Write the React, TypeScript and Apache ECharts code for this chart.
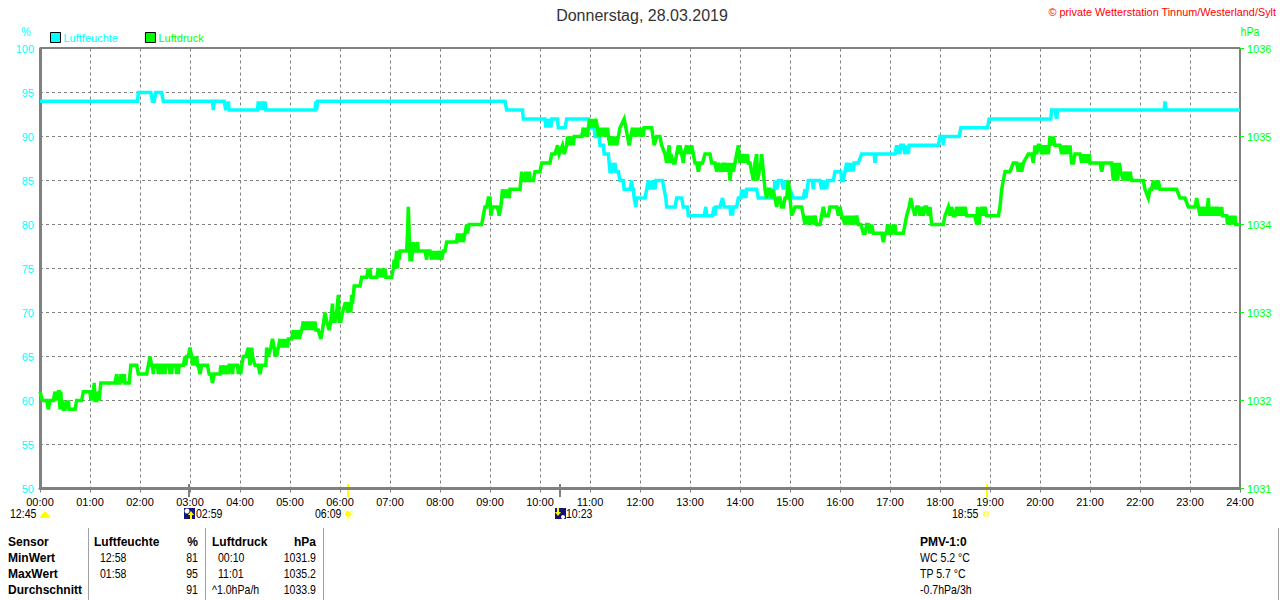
import React, { useEffect, useRef } from "react";
import * as echarts from "echarts";

const FONT = "'Liberation Sans', Arial, sans-serif";
const CYAN = "#00ffff";
const GREEN = "#00ff00";
const GREY = "#808080";
const YELLOW = "#ffff00";
const NAVY = "#14147a";

const chartTitle = "Donnerstag, 28.03.2019";
const copyright = "© private Wetterstation Tinnum/Westerland/Sylt";
const humidityName = "Luftfeuchte";
const pressureName = "Luftdruck";

// [minute of day, %]
const humidityReadings: [number, number][] = [
  [0,94],[117,94],[118,95],[133,95],[135,94],[137,94],[139,95],[146,95],[148,94],[207,94],[208,93],[209,94],[221,94],[223,93],[224,94],[225,93],[226,94],[227,93],
  [261,93],[262,94],[263,93],[264,94],[265,93],[266,94],[267,93],[268,94],[269,93],[270,94],[271,93],[330,93],[331,94],[332,93],[333,94],[558,94],[560,93],[579,93],[580,92],
  [606,92],[607,91],[608,92],[609,91],[610,92],[611,91],[612,92],[613,91],[614,92],[616,92],[621,92],[622,91],[630,91],[632,92],[658,92],[660,91],[665,91],[666,90],[671,90],[672,89],[676,89],[677,88],[682,88],
  [683,87],[684,86],[686,86],[687,87],[688,86],[690,87],[691,86],[694,86],[696,85],[700,85],[701,84],[708,84],[710,85],[711,84],[712,84],[713,83],[715,82],[716,83],[726,83],[728,84],
  [730,85],[732,84],[733,85],[735,84],[736,85],[738,84],[739,85],[747,85],[749,84],[751,83],[752,82],[762,82],[764,83],[770,83],[772,82],[777,82],[778,81],[797,81],[799,82],[800,81],
  [807,81],[809,82],[810,81],[811,82],[816,82],[819,83],[821,82],[828,82],[829,81],[830,82],[831,81],[832,82],[836,82],[838,83],[841,83],[842,84],[843,83],[844,84],[845,83],[846,84],[847,83],[848,84],[860,84],
  [862,83],[880,83],[881,84],[882,85],[884,84],[886,85],[890,85],[892,84],[893,85],[895,84],[896,85],[900,84],[904,83],[916,83],[918,84],[919,83],[922,85],[927,85],[928,84],[929,85],[936,85],[938,84],[939,85],[940,84],[941,85],[942,84],[943,85],[944,84],[945,85],[952,85],
  [954,86],[961,86],[962,85],[964,85],[966,86],[968,87],[970,86],[971,87],[972,86],[973,87],[974,86],[975,87],[976,86],[977,87],[980,87],[982,87],[986,88],[1001,88],[1002,87],[1003,88],[1026,88],
  [1028,89],[1030,88],[1031,89],[1032,88],[1033,89],[1034,89],[1036,89],[1038,88],[1039,89],[1040,88],[1041,89],[1042,88],[1043,89],[1078,89],
  [1080,90],[1083,90],[1084,89],[1085,90],[1103,90],[1105,91],[1137,91],[1139,92],[1213,92],[1214,93],[1218,93],[1220,92],[1221,93],[1349,93],[1350,94],[1351,93],[1440,93],
];

// [minute of day, hPa]
const pressureReadings: [number, number][] = [
  [0,1032.1],[3,1032.0],[8,1032.0],[10,1031.9],[12,1032.0],[16,1032.0],[18,1032.1],[19,1032.0],[20,1032.1],[21,1032.0],[22,1032.1],[23,1032.1],[24,1031.9],[25,1032.1],[26,1031.9],[27,1032.0],[28,1031.9],[30,1031.9],[32,1032.0],[33,1031.9],[34,1032.0],[35,1031.9],[42,1031.9],
  [44,1032.0],[50,1032.0],[52,1032.1],[60,1032.1],[61,1032.0],[62,1032.1],[63,1032.0],[65,1032.2],[66,1032.0],[68,1032.0],[70,1032.1],[71,1032.0],[72,1032.1],[73,1032.2],[76,1032.2],[90,1032.2],
  [92,1032.3],[93,1032.2],[96,1032.2],[97,1032.3],[98,1032.2],[99,1032.3],[100,1032.2],[101,1032.3],[102,1032.2],[104,1032.2],[107,1032.2],[109,1032.4],[116,1032.4],[118,1032.3],[128,1032.3],[130,1032.4],[132,1032.5],[134,1032.4],[135,1032.4],
  [136,1032.3],[137,1032.4],[141,1032.4],[142,1032.3],[143,1032.4],[144,1032.3],[145,1032.4],[147,1032.4],[148,1032.3],[149,1032.4],[150,1032.3],[151,1032.4],[155,1032.4],[156,1032.3],[157,1032.4],[158,1032.3],[159,1032.4],[163,1032.4],[164,1032.3],[165,1032.4],[166,1032.3],[167,1032.4],
  [172,1032.4],[174,1032.5],[175,1032.4],[176,1032.5],[178,1032.5],[180,1032.6],[182,1032.5],[183,1032.4],[185,1032.5],[186,1032.4],[188,1032.5],[189,1032.4],[190,1032.4],[192,1032.3],[194,1032.4],[196,1032.4],[198,1032.4],[201,1032.4],[203,1032.3],[205,1032.3],[207,1032.2],[209,1032.3],[216,1032.3],
  [217,1032.4],[218,1032.3],[219,1032.4],[221,1032.3],[222,1032.4],[223,1032.3],[224,1032.4],[226,1032.3],[227,1032.4],[229,1032.4],[231,1032.3],[232,1032.4],[237,1032.4],[238,1032.3],[239,1032.4],[241,1032.3],[242,1032.4],
  [244,1032.5],[247,1032.5],[250,1032.6],[252,1032.4],[254,1032.6],[255,1032.5],[258,1032.4],[262,1032.4],[264,1032.3],[266,1032.4],[271,1032.4],[272,1032.6],[274,1032.5],[277,1032.6],[279,1032.7],[281,1032.6],[282,1032.5],[283,1032.6],[284,1032.5],[286,1032.6],
  [288,1032.7],[289,1032.6],[290,1032.7],[291,1032.6],[292,1032.7],[293,1032.6],[294,1032.7],[295,1032.6],[296,1032.7],[297,1032.6],[298,1032.7],[302,1032.7],[304,1032.8],[305,1032.7],[306,1032.8],[307,1032.7],[308,1032.8],[309,1032.7],[310,1032.8],[311,1032.7],[314,1032.8],
  [316,1032.9],[317,1032.8],[318,1032.9],[319,1032.8],[320,1032.9],[321,1032.8],[322,1032.9],[323,1032.8],[324,1032.9],[325,1032.8],[326,1032.9],[327,1032.8],[328,1032.9],[329,1032.8],[330,1032.9],[331,1032.8],[334,1032.8],[337,1032.7],[339,1032.8],[342,1033.0],[344,1032.9],[347,1032.8],[349,1032.9],[351,1033.1],[352,1032.9],[354,1032.9],[356,1033.0],[358,1033.2],[359,1032.9],[361,1032.9],[363,1033.0],[366,1033.1],[368,1033.1],[369,1033.0],[370,1033.1],[372,1033.1],[373,1033.0],[374,1033.2],
  [375,1033.1],[376,1033.2],[377,1033.3],[378,1033.3],[384,1033.3],[386,1033.4],[392,1033.4],[394,1033.5],[395,1033.4],[396,1033.5],[397,1033.4],[398,1033.4],[404,1033.4],[406,1033.5],[407,1033.4],[408,1033.5],[409,1033.4],[411,1033.5],[412,1033.4],[414,1033.5],[415,1033.4],[422,1033.4],
  [424,1033.5],[425,1033.6],[426,1033.5],[427,1033.6],[428,1033.7],[429,1033.5],[430,1033.7],[431,1033.6],[432,1033.7],[434,1033.7],[440,1033.7],[441,1033.9],[442,1034.2],[443,1033.9],[444,1033.6],[446,1033.6],[448,1033.8],[449,1033.7],[451,1033.7],[453,1033.8],[454,1033.7],[456,1033.7],[462,1033.7],[464,1033.6],[465,1033.7],[468,1033.7],
  [470,1033.6],[471,1033.7],[472,1033.6],[473,1033.7],[474,1033.6],[475,1033.7],[476,1033.6],[477,1033.7],[478,1033.6],[480,1033.7],[482,1033.6],[484,1033.7],[486,1033.7],[488,1033.8],[492,1033.8],[500,1033.8],[501,1033.9],[502,1033.8],[503,1033.9],[504,1033.8],[505,1033.9],[506,1033.8],[507,1033.9],[508,1033.8],[510,1033.9],[512,1034.0],[513,1033.9],[515,1034.0],[518,1034.0],[530,1034.0],
  [532,1034.1],[534,1034.2],[536,1034.2],[538,1034.3],[540,1034.3],[541,1034.1],[543,1034.2],[549,1034.2],[551,1034.1],[553,1034.2],[555,1034.4],[557,1034.3],[558,1034.4],[559,1034.3],[560,1034.4],[561,1034.3],[562,1034.4],[563,1034.3],[564,1034.4],[576,1034.4],[578,1034.6],[579,1034.5],[582,1034.5],[583,1034.6],[584,1034.5],[586,1034.5],[587,1034.6],[588,1034.5],[592,1034.5],[594,1034.6],[600,1034.6],[602,1034.7],[612,1034.7],[614,1034.8],[618,1034.8],[621,1034.9],[623,1034.8],[627,1034.9],[629,1034.8],[632,1034.9],
  [633,1035.0],[634,1034.9],[635,1035.0],[636,1034.9],[637,1035.0],[638,1034.9],[639,1035.0],[640,1034.9],[641,1035.0],[650,1035.0],[652,1035.1],[653,1035.0],[654,1035.1],[655,1035.0],[656,1035.1],[657,1035.0],[658,1035.1],[660,1035.2],[661,1035.1],[662,1035.2],[663,1035.1],[664,1035.2],[665,1035.1],[667,1035.2],[669,1035.1],
  [670,1035.0],[671,1035.1],[672,1035.0],[673,1035.1],[674,1035.0],[675,1035.1],[676,1035.0],[677,1035.1],[678,1035.0],[679,1035.1],[680,1035.0],[681,1035.1],[682,1035.0],[684,1034.9],[685,1035.0],[686,1034.9],[687,1035.0],[688,1034.9],[689,1035.0],[690,1034.9],[691,1035.0],[692,1034.9],[694,1035.0],[696,1035.1],[701,1035.2],[703,1035.1],[705,1035.0],[707,1034.9],[709,1035.0],[711,1035.1],[712,1035.0],[713,1035.1],[714,1035.0],[715,1035.1],[716,1035.0],[717,1035.1],[718,1035.0],[719,1035.1],[720,1035.0],[721,1035.1],[722,1035.0],[723,1035.1],[724,1035.0],[725,1035.1],[730,1035.1],[734,1035.1],[737,1034.9],[740,1035.0],[744,1035.0],[746,1034.9],[750,1034.8],[752,1034.7],[755,1034.9],[756,1034.7],[757,1034.8],[760,1034.7],[762,1034.7],[764,1034.8],[766,1034.9],[767,1034.8],[768,1034.9],[770,1034.8],[772,1034.7],[773,1034.8],[776,1034.9],[777,1034.8],[778,1034.9],[779,1034.8],[780,1034.9],[781,1034.8],[782,1034.9],[784,1034.8],[786,1034.7],[788,1034.7],[790,1034.6],[792,1034.7],[795,1034.7],[798,1034.8],[804,1034.8],[806,1034.7],[810,1034.7],[812,1034.6],[814,1034.7],[817,1034.6],[819,1034.7],[820,1034.6],[822,1034.7],[824,1034.6],[826,1034.7],
  [828,1034.5],[830,1034.7],[832,1034.6],[834,1034.7],[838,1034.9],[840,1034.7],[841,1034.8],[842,1034.7],[843,1034.8],[844,1034.7],[845,1034.8],[846,1034.7],[847,1034.8],[848,1034.7],[849,1034.8],[850,1034.7],[852,1034.7],[854,1034.6],[856,1034.5],[858,1034.7],[860,1034.8],[861,1034.5],[863,1034.6],[865,1034.7],[866,1034.8],[868,1034.6],[870,1034.4],[872,1034.3],[874,1034.4],[876,1034.4],[878,1034.3],[879,1034.4],[882,1034.3],[884,1034.2],[886,1034.3],[888,1034.3],[890,1034.2],[892,1034.2],[894,1034.3],[896,1034.3],[898,1034.5],[900,1034.3],[902,1034.1],[906,1034.2],[908,1034.2],[912,1034.2],[914,1034.2],[916,1034.1],[918,1034.0],[920,1034.1],[921,1034.0],[922,1034.1],[923,1034.0],[924,1034.1],[925,1034.0],[926,1034.1],[928,1034.0],[930,1034.1],[932,1034.0],[936,1034.0],[938,1034.1],[940,1034.2],[942,1034.1],[946,1034.1],[948,1034.2],[952,1034.2],[954,1034.2],[956,1034.2],
  [958,1034.1],[960,1034.2],[962,1034.1],[966,1034.0],[967,1034.1],[968,1034.0],[969,1034.1],[970,1034.0],[971,1034.1],[972,1034.0],[973,1034.1],[974,1034.0],[975,1034.1],[976,1034.0],[977,1034.1],[978,1034.0],[980,1034.1],[982,1034.0],[985,1034.0],[988,1033.9],[990,1033.9],[992,1034.0],[994,1034.0],[996,1033.9],[998,1034.0],[1000,1033.9],[1004,1033.9],[1006,1033.9],[1008,1033.9],[1010,1033.9],[1012,1033.8],[1014,1033.9],
  [1016,1033.9],[1017,1034.0],[1018,1033.9],[1019,1034.0],[1020,1033.9],[1022,1033.9],[1024,1034.0],[1025,1033.9],[1026,1034.0],[1027,1033.9],[1030,1033.9],[1032,1033.9],[1034,1033.9],[1036,1033.9],[1040,1034.1],[1043,1034.2],[1045,1034.3],[1047,1034.2],[1050,1034.1],[1052,1034.2],[1054,1034.2],[1056,1034.1],[1058,1034.2],[1060,1034.1],[1062,1034.2],[1064,1034.2],[1066,1034.1],[1068,1034.2],[1070,1034.0],[1072,1034.0],[1074,1034.0],[1078,1034.0],[1084,1034.0],[1086,1034.1],[1090,1034.2],[1092,1034.1],[1094,1034.2],[1096,1034.1],[1098,1034.1],[1100,1034.2],[1101,1034.1],[1103,1034.2],[1104,1034.1],[1106,1034.2],[1108,1034.1],[1110,1034.2],[1112,1034.1],[1118,1034.1],[1122,1034.1],[1124,1034.0],[1125,1034.2],[1126,1034.1],[1127,1034.0],[1128,1034.1],[1130,1034.2],[1132,1034.1],[1134,1034.2],[1136,1034.1],[1138,1034.1],[1140,1034.1],[1142,1034.1],[1146,1034.1],[1148,1034.1],[1150,1034.1],
  [1152,1034.2],[1154,1034.4],[1156,1034.5],[1158,1034.6],[1164,1034.6],[1168,1034.7],[1172,1034.7],[1174,1034.6],[1176,1034.7],[1178,1034.6],[1180,1034.7],[1186,1034.8],[1190,1034.8],[1192,1034.7],[1194,1034.9],[1196,1034.8],[1198,1034.9],[1200,1034.9],[1202,1034.8],[1204,1034.9],[1206,1034.8],[1208,1034.9],[1210,1034.8],[1212,1035.0],[1214,1034.9],[1216,1035.0],[1218,1034.9],[1220,1034.9],[1224,1034.9],[1226,1034.8],[1227,1034.9],[1228,1034.8],[1229,1034.9],[1230,1034.8],[1232,1034.9],[1233,1034.8],[1234,1034.9],[1235,1034.8],[1236,1034.9],[1237,1034.8],[1238,1034.7],[1240,1034.7],[1242,1034.8],[1244,1034.8],[1248,1034.8],
  [1250,1034.7],[1251,1034.8],[1252,1034.7],[1253,1034.8],[1254,1034.7],[1255,1034.8],[1256,1034.7],[1257,1034.8],[1258,1034.7],[1259,1034.8],[1260,1034.7],[1272,1034.7],[1274,1034.6],[1276,1034.7],[1286,1034.7],[1288,1034.5],[1290,1034.7],[1291,1034.5],[1292,1034.7],[1293,1034.5],[1295,1034.7],[1297,1034.6],[1300,1034.5],[1302,1034.6],[1303,1034.5],[1304,1034.6],[1305,1034.5],[1306,1034.6],[1307,1034.5],[1308,1034.6],[1310,1034.5],[1324,1034.5],[1326,1034.4],[1330,1034.3],[1332,1034.4],[1334,1034.4],[1336,1034.5],[1337,1034.4],[1338,1034.5],[1340,1034.4],[1342,1034.5],[1344,1034.4],[1350,1034.4],[1364,1034.4],[1368,1034.3],[1374,1034.3],[1378,1034.2],[1386,1034.2],[1388,1034.3],[1390,1034.2],[1392,1034.1],[1394,1034.2],[1396,1034.1],[1398,1034.2],[1400,1034.1],[1402,1034.3],[1403,1034.1],[1405,1034.2],[1406,1034.1],[1408,1034.2],[1410,1034.1],[1412,1034.2],[1414,1034.1],[1416,1034.2],[1417,1034.1],[1418,1034.2],[1419,1034.1],[1420,1034.1],[1424,1034.1],[1425,1034.0],[1426,1034.1],[1427,1034.0],[1428,1034.1],[1429,1034.0],[1430,1034.1],[1431,1034.0],[1432,1034.1],[1433,1034.0],[1434,1034.1],[1435,1034.0],[1440,1034.0],
];

// Table below the plot
const sensorLabels = ["Sensor", "MinWert", "MaxWert", "Durchschnitt"];
const humidityColTimes = ["Luftfeuchte", "12:58", "01:58", ""];
const humidityColValues = ["%", "81", "95", "91"];
const pressureColTimes = ["Luftdruck", "00:10", "11:01", "^1.0hPa/h"];
const pressureColValues = ["hPa", "1031.9", "1035.2", "1033.9"];
const pmvLines = ["PMV-1:0", "WC 5.2 °C", "TP 5.7 °C", "-0.7hPa/3h"];

const hhmm = (m: number) => String(Math.round(m / 60)).padStart(2, "0") + ":00";
const NARROW_SCALE = 0.88;

function text(x: number, y: number, t: string, extra: any = {}, scaleX = NARROW_SCALE) {
  return {
    type: "text",
    x,
    y,
    scaleX,
    silent: true,
    style: {
      text: t,
      fill: "#000",
      font: `12px ${FONT}`,
      textAlign: "left",
      textVerticalAlign: "middle",
      ...extra,
    },
  };
}

const rect = (x: number, y: number, width: number, height: number, fill: string) => ({
  type: "rect",
  shape: { x, y, width, height },
  silent: true,
  style: { fill },
});

function tableGraphics() {
  const rowY = [542, 558, 574, 590];
  const out: any[] = [];
  const bold = `bold 12px ${FONT}`;
  rowY.forEach((y, i) => {
    out.push(text(8, y, sensorLabels[i], { font: bold }, 1));
    out.push(i === 0 ? text(94, y, humidityColTimes[i], { font: bold }, 1) : text(100, y, humidityColTimes[i]));
    out.push(text(198, y, humidityColValues[i], i === 0 ? { font: bold, textAlign: "right" } : { textAlign: "right" }, i === 0 ? 1 : NARROW_SCALE));
    out.push(i === 0 ? text(212, y, pressureColTimes[i], { font: bold }, 1) : text(i === 3 ? 212 : 218, y, pressureColTimes[i]));
    out.push(text(316, y, pressureColValues[i], i === 0 ? { font: bold, textAlign: "right" } : { textAlign: "right" }, i === 0 ? 1 : NARROW_SCALE));
    out.push(i === 0 ? text(920, y, pmvLines[i], { font: bold }, 1) : text(920, y, pmvLines[i]));
  });
  [88, 205, 323, 1278].forEach((x) => out.push(rect(x, 528, 1, 72, "#a0a0a0")));
  return out;
}

function markerGraphics() {
  return [
    // event ticks on the time axis
    rect(188, 484, 2, 13, GREY),
    rect(559, 484, 2, 13, GREY),
    rect(347, 484, 2, 13, YELLOW),
    rect(986, 484, 2, 13, YELLOW),
    // 12:45
    text(10, 514, "12:45"),
    { type: "polygon", silent: true, shape: { points: [[40, 518], [41, 515], [44, 512], [46, 512], [49, 515], [50, 518]] }, style: { fill: YELLOW } },
    // 02:59
    rect(184, 508, 11, 11, NAVY),
    { type: "circle", silent: true, shape: { cx: 187, cy: 511, r: 2.5 }, style: { fill: "#fff" } },
    { type: "polygon", silent: true, shape: { points: [[191, 511], [194, 515], [192, 515], [192, 519], [190, 519], [190, 515], [188, 515]] }, style: { fill: YELLOW } },
    text(196, 514, "02:59"),
    // 06:09
    text(315, 514, "06:09"),
    { type: "circle", silent: true, shape: { cx: 348, cy: 514, r: 3 }, style: { fill: YELLOW } },
    { type: "circle", silent: true, shape: { cx: 348, cy: 514, r: 5 }, style: { fill: "none", stroke: "#ffffa0", lineWidth: 1 } },
    // 10:23
    rect(555, 508, 11, 11, NAVY),
    { type: "polygon", silent: true, shape: { points: [[558, 516], [555, 512], [557, 512], [557, 508], [559, 508], [559, 512], [561, 512]] }, style: { fill: YELLOW } },
    { type: "circle", silent: true, shape: { cx: 563, cy: 517, r: 2 }, style: { fill: "#fff" } },
    text(566, 514, "10:23"),
    // 18:55
    text(952, 514, "18:55"),
    { type: "rect", silent: true, shape: { x: 984, y: 512, width: 4, height: 4 }, style: { fill: "#fff", stroke: YELLOW, lineWidth: 1.2 } },
  ];
}

export default function App() {
  const ref = useRef<HTMLDivElement>(null);
  useEffect(() => {
    const chart = echarts.init(ref.current!, null, { renderer: "svg" });
    chart.setOption({
      animation: false,
      backgroundColor: "#fff",
      textStyle: { fontFamily: FONT },
      grid: { left: 40, right: 40, top: 48.5, bottom: 111.5, containLabel: false },
      legend: {
        left: 50,
        top: 32,
        padding: 0,
        itemWidth: 10,
        itemHeight: 10,
        itemGap: 27,
        icon: "rect",
        selectedMode: false,
        textStyle: { fontSize: 11, fontFamily: FONT, padding: [0, 0, 0, -2] },
        data: [
          { name: humidityName, icon: "rect", itemStyle: { color: CYAN, borderColor: "#000", borderWidth: 1 }, textStyle: { color: CYAN } },
          { name: pressureName, icon: "rect", itemStyle: { color: GREEN, borderColor: "#000", borderWidth: 1 }, textStyle: { color: GREEN } },
        ],
      },
      xAxis: {
        type: "value",
        min: 0,
        max: 1440,
        interval: 60,
        axisLine: { show: true, onZero: false, lineStyle: { color: GREY, width: 3 } },
        axisTick: { show: true, length: 4, lineStyle: { color: GREY, width: 1 } },
        axisLabel: { color: "#000", fontSize: 11, margin: 8, fontFamily: FONT, formatter: (v: number) => hhmm(v), showMinLabel: true, showMaxLabel: true },
        splitLine: { show: true, lineStyle: { color: GREY, type: [3, 3], width: 1 } },
      },
      yAxis: [
        {
          type: "value",
          min: 50,
          max: 100,
          interval: 5,
          axisLine: { show: true, lineStyle: { color: GREY, width: 3 } },
          axisTick: { show: false },
          axisLabel: { color: CYAN, fontSize: 11, margin: 6, fontFamily: FONT },
          splitLine: { show: true, lineStyle: { color: GREY, type: [3, 3], width: 1 } },
        },
        {
          type: "value",
          min: 1031,
          max: 1036,
          interval: 1,
          position: "right",
          axisLine: { show: true, lineStyle: { color: GREY, width: 2 } },
          axisTick: { show: true, length: 4, lineStyle: { color: GREEN, width: 1 } },
          axisLabel: { color: GREEN, fontSize: 11, margin: 7, fontFamily: FONT, formatter: (v: number) => String(v) },
          splitLine: { show: false },
        },
      ],
      series: [
        {
          name: humidityName,
          type: "line",
          xAxisIndex: 0,
          yAxisIndex: 0,
          showSymbol: false,
          symbol: "none",
          data: humidityReadings,
          lineStyle: { color: CYAN, width: 3.5, join: "miter" },
          itemStyle: { color: CYAN },
          z: 3,
        },
        {
          name: pressureName,
          type: "line",
          xAxisIndex: 0,
          yAxisIndex: 1,
          showSymbol: false,
          symbol: "none",
          data: pressureReadings,
          lineStyle: { color: GREEN, width: 3.5, join: "miter" },
          itemStyle: { color: GREEN },
          z: 4,
        },
      ],
      graphic: [
        rect(40, 47, 1200, 2, GREY),
        text(642, 15, chartTitle, { font: `16px ${FONT}`, fill: "#333", textAlign: "center" }, 1),
        text(1276, 12, copyright, { font: `10.85px ${FONT}`, fill: "#ff0000", textAlign: "right" }, 1),
        text(26, 32, "%", { fill: CYAN, textAlign: "center" }),
        text(1250, 32, "hPa", { fill: GREEN, textAlign: "center" }),
        ...markerGraphics(),
        ...tableGraphics(),
      ],
    });
    return () => chart.dispose();
  }, []);
  return <div ref={ref} style={{ position: "absolute", left: 0, top: 0, width: 1280, height: 600, background: "#fff" }} />;
}
